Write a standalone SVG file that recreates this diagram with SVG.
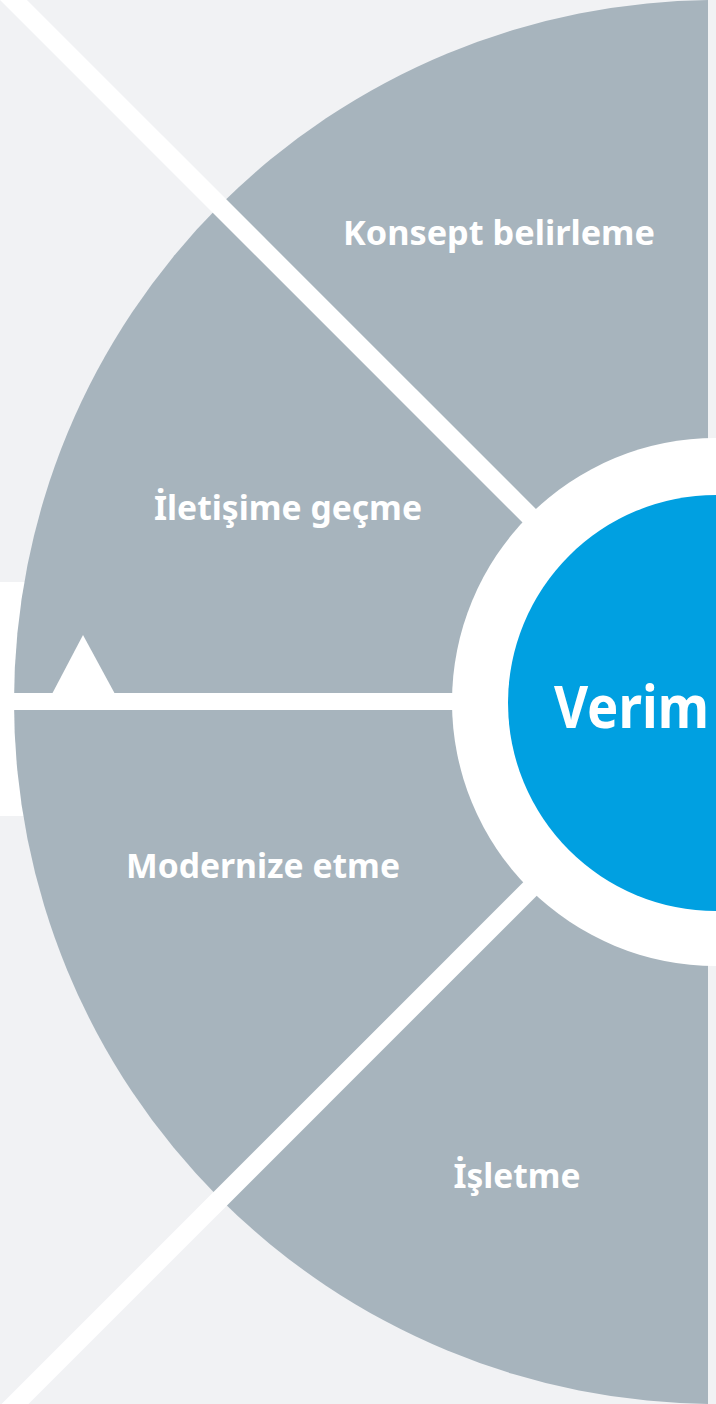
<svg xmlns="http://www.w3.org/2000/svg" width="716" height="1404" viewBox="0 0 716 1404">
<defs>
<style>
.lbl{font-family:"Noto Sans","Liberation Sans",sans-serif;font-weight:700;font-size:34px;fill:#ffffff;text-anchor:middle}
.sep{stroke:#ffffff;stroke-width:19;fill:none}
</style>
<clipPath id="clipR"><rect x="0" y="0" width="708" height="1404"/></clipPath>
</defs>
<rect x="0" y="0" width="716" height="1404" fill="#f1f2f4"/>
<rect x="0" y="582" width="120" height="234" fill="#ffffff"/>
<g id="wheel" clip-path="url(#clipR)">
<circle cx="716" cy="702" r="702" fill="#a7b4bd"/>
</g>
<g id="connectors">
<line class="sep" x1="-30" y1="-43.5" x2="716" y2="702.5"/>
<line class="sep" x1="-30" y1="1449" x2="716" y2="703"/>
<line x1="0" y1="701.5" x2="500" y2="701.5" stroke="#ffffff" stroke-width="17"/>
<polygon points="52,694 83,635 115,694" fill="#ffffff"/>
</g>
<g id="ring">
<circle cx="716" cy="702" r="264" fill="#ffffff"/>
</g>
<g id="node-konsept"><text class="lbl" x="499" y="245" textLength="312" lengthAdjust="spacingAndGlyphs">Konsept belirleme</text></g>
<g id="node-iletisim"><text class="lbl" x="288" y="520" textLength="268" lengthAdjust="spacingAndGlyphs">İletişime geçme</text></g>
<g id="node-modernize"><text class="lbl" x="263" y="878" textLength="274" lengthAdjust="spacingAndGlyphs">Modernize etme</text></g>
<g id="node-isletme"><text class="lbl" x="517" y="1188" textLength="127" lengthAdjust="spacingAndGlyphs">İşletme</text></g>
<g id="node-verim">
<circle cx="716" cy="703" r="208" fill="#00a0e1"/>
<text x="554" y="728" font-family="'Noto Sans','Liberation Sans',sans-serif" font-weight="700" font-size="60" fill="#ffffff" textLength="155" lengthAdjust="spacingAndGlyphs">Verim</text>
</g>
</svg>
